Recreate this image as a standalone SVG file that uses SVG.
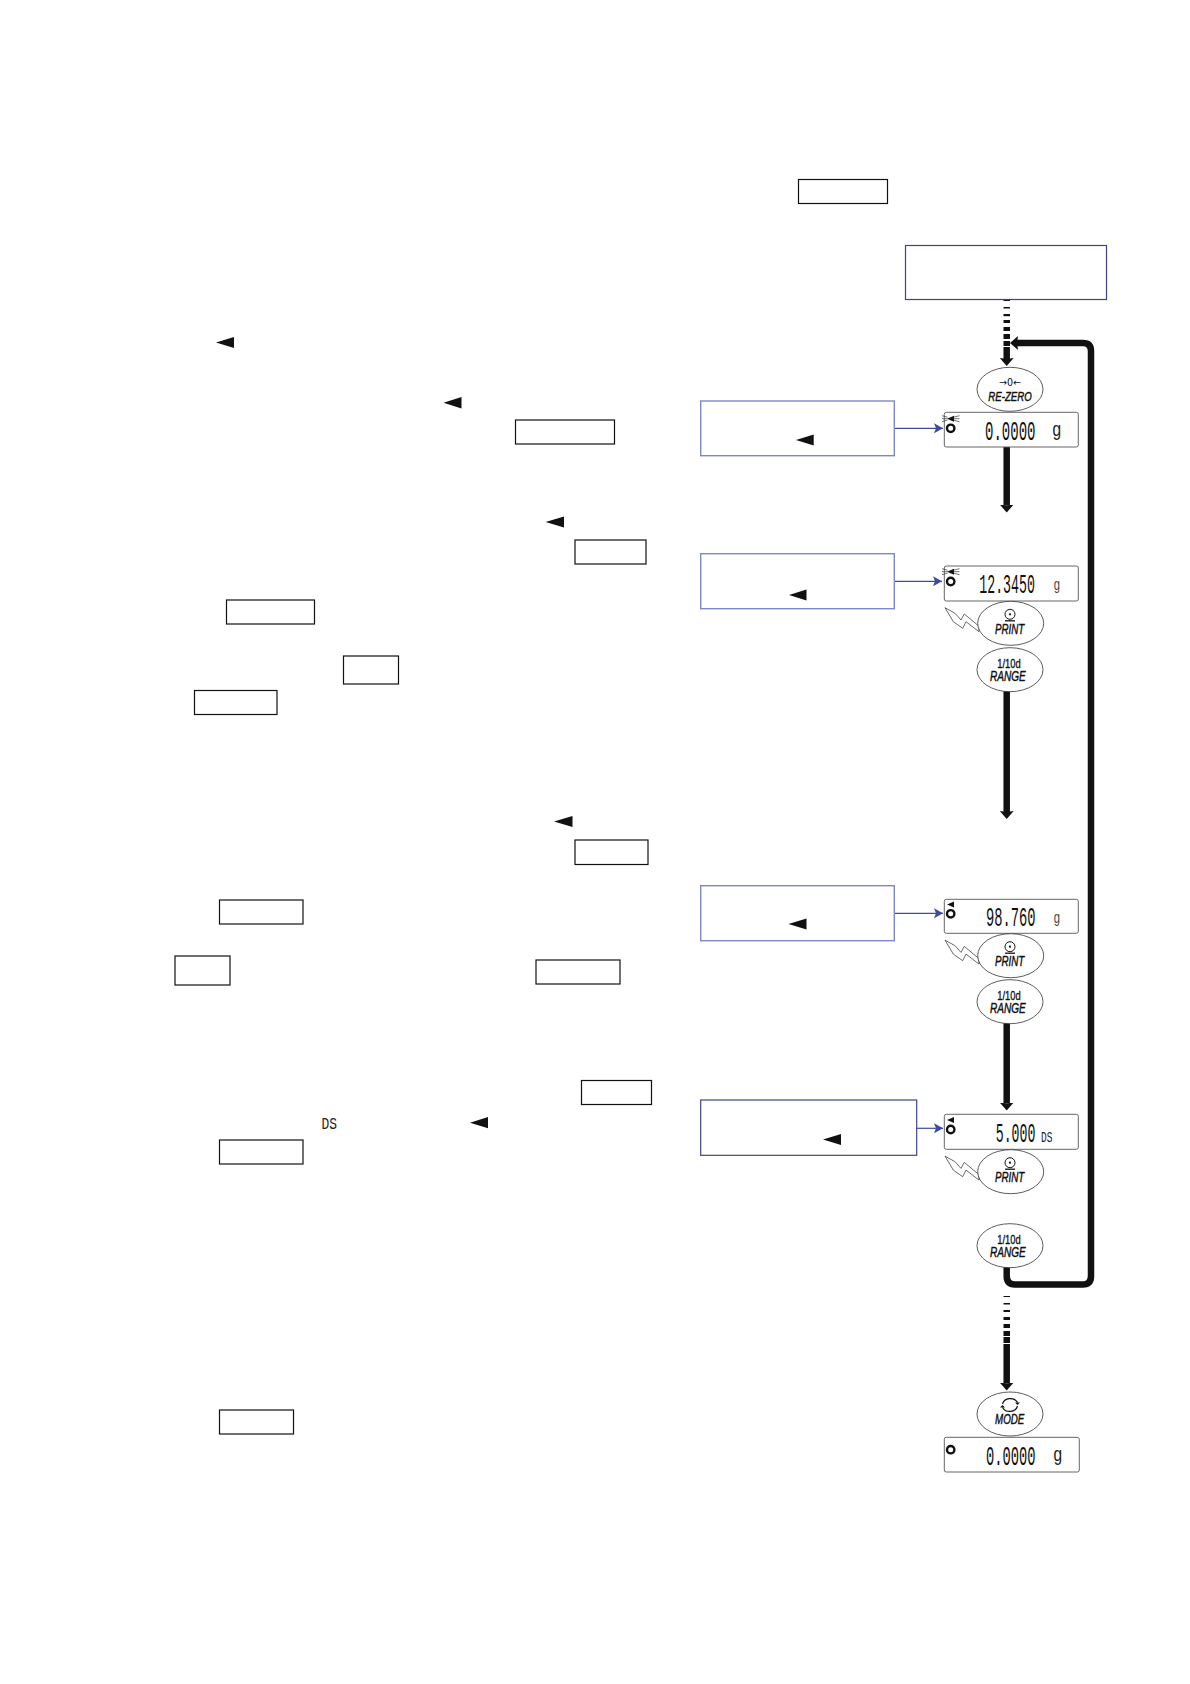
<svg xmlns="http://www.w3.org/2000/svg" xmlns:xlink="http://www.w3.org/1999/xlink" width="1190" height="1684" viewBox="0 0 1190 1684">
<style>
.k{fill:#fff;stroke:#111;stroke-width:1.2}
.bd{fill:#fff;stroke:#3d4683;stroke-width:1.2}
.bl{fill:#fff;stroke:#7f88c6;stroke-width:1.4}
.tri{fill:#111}
.disp{fill:#fff;stroke:#555;stroke-width:.9}
.key{fill:#fff;stroke:#333;stroke-width:.8}
.bolt{fill:#fff;stroke:#444;stroke-width:.8}
.t{font-family:"Liberation Sans",Arial,sans-serif;fill:#111}
.ki{font-size:14px;font-style:italic;stroke:#111;stroke-width:.45}
.kr{font-size:13px;stroke:#111;stroke-width:.35}
.seg{font-family:"Liberation Mono",monospace;font-size:27px;fill:#111}
.u1{font-family:"Liberation Mono",monospace;font-size:21px;fill:#222}
.u2{font-family:"Liberation Mono",monospace;font-size:16px;fill:#444}
.ds{font-family:"Liberation Mono",monospace;font-size:17px;fill:#222}
.thick{fill:none;stroke:#111;stroke-width:6.500}
.blue{fill:none;stroke:#3a4ba0;stroke-width:1.200}
.dash{fill:#111}
.ring{fill:none;stroke:#111;stroke-width:2.400}
.tick{stroke:#333;stroke-width:.7;fill:none}
</style>
<defs>
<marker id="hd" markerUnits="userSpaceOnUse" markerWidth="10" markerHeight="14" refX="1" refY="7" orient="auto"><path d="M0 0L8 7L0 14L1 7Z" fill="#111"/></marker>
<marker id="hb" markerUnits="userSpaceOnUse" markerWidth="10" markerHeight="10" refX="9" refY="5" orient="auto"><path d="M0 0L9 5L0 10L2 5Z" fill="#3a4ba0"/></marker>
<g id="ticks"><path class="tick" d="M-8.500 -3L-3 -1.500M-8.500 0H-3M-8.500 3L-3 1.500M3 -1.500L9 -3M3 0H9M3 1.500L9 3"/></g>
<g id="bolt"><polygon class="bolt" points="-65.700,-15.600 -55.700,-10 -49.700,-3.300 -46.400,-9.300 -32,2.700 -31.700,8.400 -44.700,-1.600 -48,5 -57.400,-1.600"/></g>
<g id="printicon"><circle cx="0" cy="-9" r="5" fill="none" stroke="#111" stroke-width="1"/><circle cx="0" cy="-9" r="1.100" fill="#111"/><path d="M-5 -2.500H5" stroke="#111" stroke-width="1.300"/></g>
</defs>

<g id="outline-boxes">
<rect class="k" x="798.500" y="179.500" width="89" height="24"/>
<rect class="k" x="515.500" y="420" width="99" height="24"/>
<rect class="k" x="575" y="540" width="71" height="24"/>
<rect class="k" x="226.500" y="600" width="88" height="24"/>
<rect class="k" x="343.500" y="656" width="55" height="28"/>
<rect class="k" x="194.500" y="690.500" width="82.500" height="24"/>
<rect class="k" x="575" y="840" width="73" height="24.500"/>
<rect class="k" x="219.500" y="900" width="83.500" height="24"/>
<rect class="k" x="175" y="956" width="55" height="29"/>
<rect class="k" x="536" y="960" width="84" height="24"/>
<rect class="k" x="581.500" y="1080.500" width="70" height="24"/>
<rect class="k" x="219.500" y="1140" width="83.500" height="24"/>
<rect class="k" x="219.500" y="1410" width="74" height="24"/>
</g>
<g id="text-markers">
<path class="tri" d="M216 342.600L234 337V348Z"/>
<path class="tri" d="M443.500 402.700L461.500 397V408.500Z"/>
<path class="tri" d="M545.600 522L564 516.500V527.500Z"/>
<path class="tri" d="M554 821.600L572.500 816V827Z"/>
<path class="tri" d="M470 1122.700L488 1117V1128.300Z"/>
<text class="ds" transform="translate(321.500 1128.500) scale(.76 1)">DS</text>
</g>

<g id="connectors">
<g id="dash-top">
<rect class="dash" x="1003.500" y="300" width="6.500" height="1"/>
<rect class="dash" x="1003.500" y="307" width="6.500" height="1.500"/>
<rect class="dash" x="1003.500" y="314" width="6.500" height="2.200"/>
<rect class="dash" x="1003.500" y="320" width="6.500" height="3"/>
<rect class="dash" x="1003.500" y="327" width="6.500" height="4"/>
<rect class="dash" x="1003.500" y="334" width="6.500" height="5"/>
<rect class="dash" x="1003.500" y="341" width="6.500" height="5"/>
</g>
<g id="dash-bottom">
<rect class="dash" x="1003.500" y="1296" width="6.500" height="1"/>
<rect class="dash" x="1003.500" y="1303" width="6.500" height="1.500"/>
<rect class="dash" x="1003.500" y="1310" width="6.500" height="2"/>
<rect class="dash" x="1003.500" y="1317" width="6.500" height="3"/>
<rect class="dash" x="1003.500" y="1324" width="6.500" height="4"/>
<rect class="dash" x="1003.500" y="1331" width="6.500" height="5"/>
<rect class="dash" x="1003.500" y="1337" width="6.500" height="6"/>
</g>
<path class="thick" d="M1006.700 347V359" marker-end="url(#hd)"/>
<path class="thick" d="M1006.700 447V505.500" marker-end="url(#hd)"/>
<path class="thick" d="M1006.700 690V812" marker-end="url(#hd)"/>
<path class="thick" d="M1006.700 1022V1103.500" marker-end="url(#hd)"/>
<path class="thick" d="M1006.700 1344V1383.500" marker-end="url(#hd)"/>
<path class="thick" d="M1006.700 1266V1276Q1006.700 1284.500 1015 1284.500H1083Q1091 1284.500 1091 1276V351Q1091 343 1083 343H1017" marker-end="url(#hd)"/>
<path class="blue" d="M894.300 428.300H943" marker-end="url(#hb)"/>
<path class="blue" d="M894.300 581.300H942" marker-end="url(#hb)"/>
<path class="blue" d="M894.300 913.300H943" marker-end="url(#hb)"/>
<path class="blue" d="M916.700 1128.300H943" marker-end="url(#hb)"/>
</g>

<g id="box-top"><rect class="bd" x="905.500" y="245.500" width="201" height="54"/></g>
<g id="box-1"><rect class="bl" x="700.700" y="401" width="193.600" height="54.700"/><path class="tri" d="M796 440L813.700 434.500V445.500Z"/></g>
<g id="box-2"><rect class="bl" x="700.700" y="553.700" width="193.600" height="55"/><path class="tri" d="M789 595L806.500 589.500V600.500Z"/></g>
<g id="box-3"><rect class="bl" x="700.700" y="885.700" width="193.600" height="55"/><path class="tri" d="M788.500 924L806.500 918.500V929.500Z"/></g>
<g id="box-4"><rect class="bd" x="700.700" y="1100" width="216" height="55.300"/><path class="tri" d="M823 1139.500L841 1134V1145Z"/></g>

<g id="key-rezero"><ellipse class="key" cx="1010" cy="389.300" rx="33" ry="22"/><text x="999" y="386" style="font-family:'DejaVu Sans',sans-serif;font-size:10px;fill:#111" textLength="22" lengthAdjust="spacingAndGlyphs">→0←</text><text class="t ki" style="font-size:13px" x="988.300" y="400.700" textLength="43.400" lengthAdjust="spacingAndGlyphs">RE-ZERO</text></g>
<g id="display-1"><rect class="disp" x="944.300" y="412.300" width="134" height="34.700" rx="2"/><circle class="ring" cx="950.700" cy="428.300" r="3.700"/><path class="tri" d="M947 418.700L954 415.700V421.700Z"/><use xlink:href="#ticks" href="#ticks" x="950.500" y="418.700"/><text class="seg" transform="translate(985 440) scale(.52 1)">0.0000</text><text class="u1" transform="translate(1052 436) scale(.75 1)">g</text></g>

<g id="display-2"><rect class="disp" x="944.300" y="566" width="134" height="35" rx="2"/><circle class="ring" cx="950.700" cy="581.500" r="3.700"/><path class="tri" d="M947 571.700L954 568.700V574.700Z"/><use xlink:href="#ticks" href="#ticks" x="950.500" y="571.700"/><text class="seg" transform="translate(979.300 593.300) scale(.49 1)">12.3450</text><text class="u2" transform="translate(1053.500 589.500) scale(.7 1)">g</text></g>
<g id="key-print-1"><use xlink:href="#bolt" href="#bolt" x="1010.700" y="623.300"/><ellipse class="key" cx="1010.700" cy="623.300" rx="33" ry="22"/><use xlink:href="#printicon" href="#printicon" x="1010" y="623.300"/><text class="t ki" x="995" y="634" textLength="29.300" lengthAdjust="spacingAndGlyphs">PRINT</text></g>
<g id="key-range-1"><ellipse class="key" cx="1010" cy="669.700" rx="33" ry="22"/><text class="t kr" x="997.300" y="667.700" textLength="23.400" lengthAdjust="spacingAndGlyphs">1/10d</text><text class="t ki" x="990" y="680.700" textLength="35.700" lengthAdjust="spacingAndGlyphs">RANGE</text></g>

<g id="display-3"><rect class="disp" x="944.300" y="899.300" width="134" height="34" rx="2"/><circle class="ring" cx="950.700" cy="913.800" r="3.700"/><path class="tri" d="M947 904.500L954 901.500V907.500Z"/><text class="seg" transform="translate(986 926) scale(.51 1)">98.760</text><text class="u2" transform="translate(1053.500 922.500) scale(.7 1)">g</text></g>
<g id="key-print-2"><use xlink:href="#bolt" href="#bolt" x="1010.700" y="955.700"/><ellipse class="key" cx="1010.700" cy="955.700" rx="33" ry="22"/><use xlink:href="#printicon" href="#printicon" x="1010" y="955.700"/><text class="t ki" x="995" y="966.400" textLength="29.300" lengthAdjust="spacingAndGlyphs">PRINT</text></g>
<g id="key-range-2"><ellipse class="key" cx="1010" cy="1001.700" rx="33" ry="22"/><text class="t kr" x="997.300" y="999.700" textLength="23.400" lengthAdjust="spacingAndGlyphs">1/10d</text><text class="t ki" x="990" y="1012.700" textLength="35.700" lengthAdjust="spacingAndGlyphs">RANGE</text></g>

<g id="display-4"><rect class="disp" x="944.300" y="1114.300" width="134" height="35" rx="2"/><circle class="ring" cx="950.700" cy="1129.500" r="3.700"/><path class="tri" d="M947 1120L954 1117V1123Z"/><text class="seg" transform="translate(995.700 1141.700) scale(.49 1)">5.000</text><text class="ds" transform="translate(1041 1141.700) scale(.56 .85)">DS</text></g>
<g id="key-print-3"><use xlink:href="#bolt" href="#bolt" x="1010.700" y="1171.700"/><ellipse class="key" cx="1010.700" cy="1171.700" rx="33" ry="22"/><use xlink:href="#printicon" href="#printicon" x="1010" y="1171.700"/><text class="t ki" x="995" y="1182.400" textLength="29.300" lengthAdjust="spacingAndGlyphs">PRINT</text></g>
<g id="key-range-3"><ellipse class="key" cx="1010" cy="1245.700" rx="33" ry="22"/><text class="t kr" x="997.300" y="1243.700" textLength="23.400" lengthAdjust="spacingAndGlyphs">1/10d</text><text class="t ki" x="990" y="1256.700" textLength="35.700" lengthAdjust="spacingAndGlyphs">RANGE</text></g>

<g id="key-mode"><ellipse class="key" cx="1010" cy="1414" rx="33" ry="22"/><path d="M1002.500 1404A8 7 0 0 1 1017.500 1402.500M1017.500 1406A8 7 0 0 1 1002.500 1407.500" fill="none" stroke="#111" stroke-width="1.200"/><path d="M1015 1402.500H1020L1017.500 1405ZM1000 1407.500H1005L1002.500 1405Z" fill="#111"/><text class="t ki" x="995" y="1424" textLength="29.300" lengthAdjust="spacingAndGlyphs">MODE</text></g>
<g id="display-5"><rect class="disp" x="944.300" y="1437.300" width="135" height="34.700" rx="2"/><circle class="ring" cx="950.700" cy="1449.700" r="3.700"/><text class="seg" transform="translate(986 1465) scale(.51 1)">0.0000</text><text class="u1" transform="translate(1053 1461) scale(.75 1)">g</text></g>
</svg>
